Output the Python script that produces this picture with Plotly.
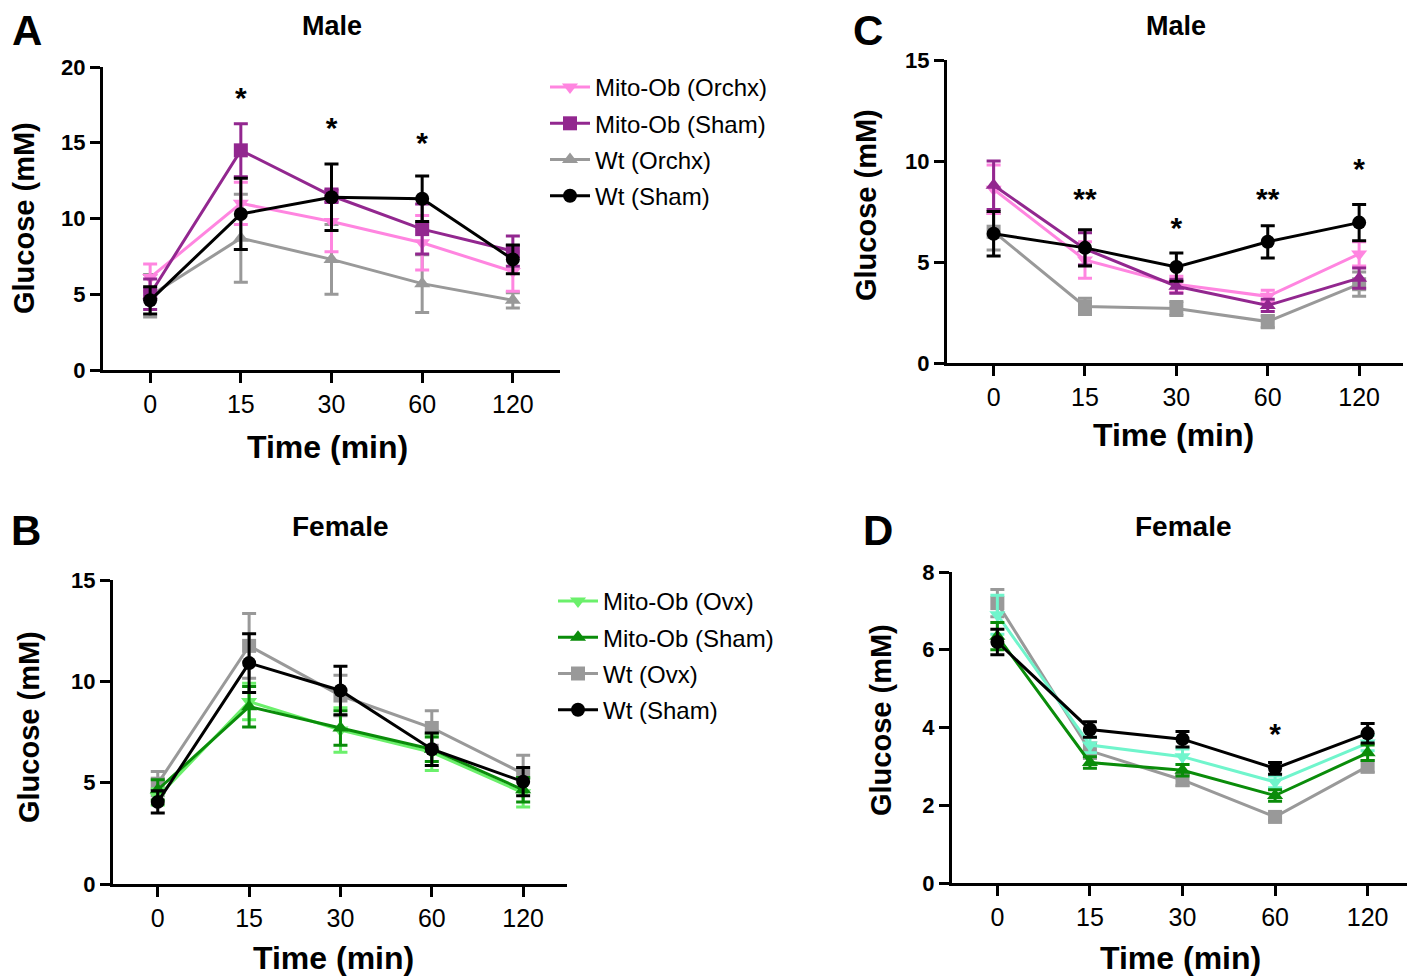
import plotly.graph_objects as go

# page body has an 8px margin, so the figure is sized to fill the rest of the window
OFF = 8
W, H = 1415 - OFF, 979 - OFF
FONT = "Liberation Sans, Arial, Helvetica, sans-serif"

times = ["0", "15", "30", "60", "120"]

# panel A - male, orchiectomy
a_mito_orchx = [6.1, 11.0, 9.8, 8.4, 6.5]
a_mito_orchx_err = [0.9, 1.4, 2.0, 1.8, 1.3]
a_mito_sham = [5.0, 14.5, 11.5, 9.3, 7.85]
a_mito_sham_err = [1.0, 1.75, 0.45, 1.65, 1.0]
a_wt_orchx = [4.9, 8.7, 7.3, 5.7, 4.6]
a_wt_orchx_err = [1.4, 2.9, 2.3, 1.9, 0.5]
a_wt_sham = [4.6, 10.3, 11.4, 11.3, 7.3]
a_wt_sham_err = [0.9, 2.35, 2.2, 1.5, 0.95]
a_star_x = ["15", "30", "60"]
a_star_y = [17.8, 15.8, 14.8]
a_star_txt = ["*", "*", "*"]

# panel B - female, ovariectomy
b_mito_ovx = [4.3, 9.0, 7.6, 6.5, 4.5]
b_mito_ovx_err = [0.4, 0.9, 1.1, 0.9, 0.7]
b_mito_sham = [4.65, 8.75, 7.7, 6.65, 4.65]
b_mito_sham_err = [0.5, 1.0, 0.85, 0.6, 0.6]
b_wt_ovx = [4.95, 11.75, 9.3, 7.7, 5.45]
b_wt_ovx_err = [0.6, 1.6, 1.0, 0.85, 0.9]
b_wt_sham = [4.05, 10.9, 9.55, 6.65, 5.05]
b_wt_sham_err = [0.55, 1.45, 1.2, 0.8, 0.7]

# panel C - male, insulin tolerance
c_mito_orchx = [8.6, 5.1, 3.9, 3.3, 5.4]
c_mito_orchx_err = [1.2, 0.9, 0.4, 0.3, 0.6]
c_mito_sham = [8.8, 5.65, 3.8, 2.85, 4.2]
c_mito_sham_err = [1.2, 0.8, 0.35, 0.3, 0.5]
c_wt_orchx = [6.5, 2.8, 2.7, 2.05, 3.9]
c_wt_orchx_err = [0.9, 0.4, 0.35, 0.3, 0.6]
c_wt_sham = [6.4, 5.7, 4.75, 6.0, 6.95]
c_wt_sham_err = [1.1, 0.9, 0.7, 0.8, 0.9]
c_star_x = ["15", "30", "60", "120"]
c_star_y = [8.0, 6.55, 8.0, 9.5]
c_star_txt = ["**", "*", "**", "*"]

# panel D - female, insulin tolerance
d_mito_ovx = [6.9, 3.55, 3.25, 2.6, 3.6]
d_mito_ovx_err = [0.5, 0.2, 0.2, 0.15, 0.2]
d_mito_sham = [6.35, 3.1, 2.9, 2.25, 3.35]
d_mito_sham_err = [0.35, 0.15, 0.15, 0.15, 0.2]
d_wt_ovx = [7.2, 3.4, 2.65, 1.7, 3.0]
d_wt_ovx_err = [0.35, 0.2, 0.15, 0.1, 0.15]
d_wt_sham = [6.2, 3.95, 3.7, 2.95, 3.85]
d_wt_sham_err = [0.33, 0.2, 0.2, 0.15, 0.25]
d_star_x = ["60"]
d_star_y = [3.77]
d_star_txt = ["*"]

PINK = "#FF85E0"
PURPLE = "#92278F"
GRAY = "#999999"
BLACK = "#000000"
LGREEN = "#6BF06B"
DGREEN = "#0A8C0A"
AQUA = "#70F5CC"


def px(x, y):
    # window pixel -> paper fraction
    return (x - OFF) / W, 1 - (y - OFF) / H


def add_series(fig, ax, y, err, name, color, symbol, legend=None, rank=1):
    xa = "x" if ax == 1 else f"x{ax}"
    ya = "y" if ax == 1 else f"y{ax}"
    fig.add_trace(go.Scatter(
        x=times, y=y, name=name, mode="lines+markers",
        xaxis=xa, yaxis=ya,
        line=dict(color=color, width=3),
        marker=dict(color=color, symbol=symbol, size=14),
        error_y=dict(type="data", array=err, color=color, thickness=3, width=7),
        showlegend=legend is not None,
        legend=legend if legend else "legend",
        legendgroup=f"{ax}_{name}",
        legendrank=rank,
    ))


fig = go.Figure()

# A
add_series(fig, 1, a_wt_orchx, a_wt_orchx_err, "Wt (Orchx)", GRAY, "triangle-up", "legend", 3)
add_series(fig, 1, a_mito_orchx, a_mito_orchx_err, "Mito-Ob (Orchx)", PINK, "triangle-down", "legend", 1)
add_series(fig, 1, a_mito_sham, a_mito_sham_err, "Mito-Ob (Sham)", PURPLE, "square", "legend", 2)
add_series(fig, 1, a_wt_sham, a_wt_sham_err, "Wt (Sham)", BLACK, "circle", "legend", 4)

# B
add_series(fig, 2, b_wt_ovx, b_wt_ovx_err, "Wt (Ovx)", GRAY, "square", "legend2", 3)
add_series(fig, 2, b_mito_ovx, b_mito_ovx_err, "Mito-Ob (Ovx)", LGREEN, "triangle-down", "legend2", 1)
add_series(fig, 2, b_mito_sham, b_mito_sham_err, "Mito-Ob (Sham)", DGREEN, "triangle-up", "legend2", 2)
add_series(fig, 2, b_wt_sham, b_wt_sham_err, "Wt (Sham)", BLACK, "circle", "legend2", 4)

# C
add_series(fig, 3, c_wt_orchx, c_wt_orchx_err, "Wt (Orchx)", GRAY, "square")
add_series(fig, 3, c_mito_orchx, c_mito_orchx_err, "Mito-Ob (Orchx)", PINK, "triangle-down")
add_series(fig, 3, c_mito_sham, c_mito_sham_err, "Mito-Ob (Sham)", PURPLE, "triangle-up")
add_series(fig, 3, c_wt_sham, c_wt_sham_err, "Wt (Sham)", BLACK, "circle")

# D
add_series(fig, 4, d_wt_ovx, d_wt_ovx_err, "Wt (Ovx)", GRAY, "square")
add_series(fig, 4, d_mito_ovx, d_mito_ovx_err, "Mito-Ob (Ovx)", AQUA, "triangle-down")
add_series(fig, 4, d_mito_sham, d_mito_sham_err, "Mito-Ob (Sham)", DGREEN, "triangle-up")
add_series(fig, 4, d_wt_sham, d_wt_sham_err, "Wt (Sham)", BLACK, "circle")

# significance stars
for ax, sx, sy, st in [(1, a_star_x, a_star_y, a_star_txt),
                       (3, c_star_x, c_star_y, c_star_txt),
                       (4, d_star_x, d_star_y, d_star_txt)]:
    xa = "x" if ax == 1 else f"x{ax}"
    ya = "y" if ax == 1 else f"y{ax}"
    fig.add_trace(go.Scatter(
        x=sx, y=sy, text=st, mode="text", xaxis=xa, yaxis=ya,
        textfont=dict(family=FONT, size=30, color="black", weight="bold"),
        textposition="middle center", showlegend=False, hoverinfo="skip",
    ))

axis_common = dict(
    showline=True, linewidth=3, linecolor="black", mirror=False,
    ticks="outside", ticklen=10, tickwidth=3, tickcolor="black",
    showgrid=False, zeroline=False, fixedrange=True, automargin=False,
)
xfont = dict(family=FONT, size=25, color="black")
yfont = dict(family=FONT, size=22, color="black", weight="bold")

# window pixel boxes: (left, right, top, bottom)
boxes = {
    1: (103, 560, 67, 370),
    2: (113, 567, 580, 884),
    3: (947, 1403, 60, 363),
    4: (952, 1413, 572, 883),
}
xranges = {1: [-0.52, 4.52], 2: [-0.49, 4.48], 3: [-0.51, 4.48], 4: [-0.49, 4.49]}
yranges = {1: [0, 20], 2: [0, 15], 3: [0, 15], 4: [0, 8]}
ydticks = {1: 5, 2: 5, 3: 5, 4: 2}

layout = dict(
    width=W, height=H,
    margin=dict(l=0, r=0, t=0, b=0, pad=0, autoexpand=False),
    paper_bgcolor="white", plot_bgcolor="white",
    font=dict(family=FONT, color="black"),
)
for ax, (l, r, t, b) in boxes.items():
    xk = "xaxis" if ax == 1 else f"xaxis{ax}"
    yk = "yaxis" if ax == 1 else f"yaxis{ax}"
    ya = "y" if ax == 1 else f"y{ax}"
    xa = "x" if ax == 1 else f"x{ax}"
    x0, y0 = px(l, b)
    x1, y1 = px(r, t)
    layout[xk] = dict(axis_common, domain=[x0, x1], anchor=ya,
                      type="category", categoryorder="array", categoryarray=times,
                      range=xranges[ax], tickfont=xfont)
    layout[yk] = dict(axis_common, domain=[y0, y1], anchor=xa,
                      range=yranges[ax], dtick=ydticks[ax], tickfont=yfont)

lx, ly = px(545, 65)
layout["legend"] = dict(x=lx, y=ly, xanchor="left", yanchor="top",
                        font=dict(family=FONT, size=24, color="black"),
                        bgcolor="rgba(0,0,0,0)", tracegroupgap=2, itemwidth=40)
lx2, ly2 = px(553, 579)
layout["legend2"] = dict(x=lx2, y=ly2, xanchor="left", yanchor="top",
                         font=dict(family=FONT, size=24, color="black"),
                         bgcolor="rgba(0,0,0,0)", tracegroupgap=2, itemwidth=40)
fig.update_layout(**layout)

texts = [
    ("A", 27, 30, 42, 0), ("B", 26, 530, 42, 0), ("C", 868, 30, 42, 0), ("D", 878, 530, 42, 0),
    ("Male", 332, 26, 27, 0), ("Female", 340, 526, 28, 0),
    ("Male", 1176, 26, 27, 0), ("Female", 1183, 526, 28, 0),
    ("Time (min)", 327, 447, 32, 0), ("Time (min)", 333, 958, 32, 0),
    ("Time (min)", 1173, 435, 32, 0), ("Time (min)", 1180, 958, 32, 0),
    ("Glucose (mM)", 24, 218, 29, -90), ("Glucose (mM)", 29, 727, 29, -90),
    ("Glucose (mM)", 866, 205, 29, -90), ("Glucose (mM)", 881, 720, 29, -90),
]
for txt, x, y, size, ang in texts:
    ax_, ay_ = px(x, y)
    fig.add_annotation(x=ax_, y=ay_, xref="paper", yref="paper", text=txt,
                       showarrow=False, textangle=ang, xanchor="center", yanchor="middle",
                       font=dict(family=FONT, size=size, color="black", weight="bold"))

fig.write_html("out.html")
